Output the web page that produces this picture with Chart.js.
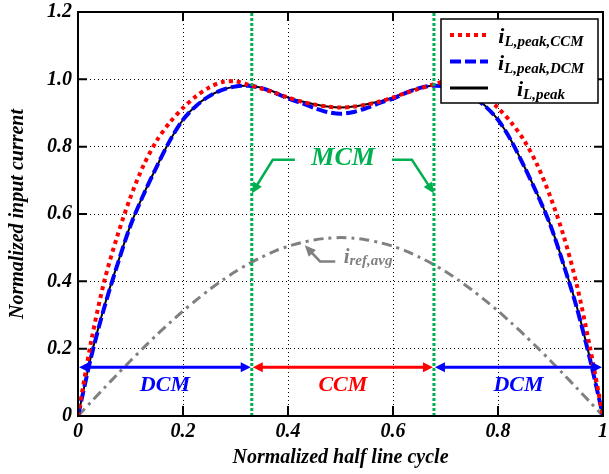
<!DOCTYPE html>
<html>
<head>
<meta charset="utf-8">
<script src="https://cdn.jsdelivr.net/npm/chart.js@4.4.0/dist/chart.umd.min.js"></script>
<style>
  html, body { margin: 0; padding: 0; background: #fff; }
</style>
</head>
<body>
<canvas id="chartPeak" width="609" height="474"></canvas>
<script>
// normalized half line cycle
const xs = [0, 0.025, 0.05, 0.075, 0.1, 0.125, 0.15, 0.175, 0.2, 0.225, 0.25, 0.275, 0.3, 0.325, 0.35, 0.375, 0.4, 0.425, 0.45, 0.475,
  0.5, 0.525, 0.55, 0.575, 0.6, 0.625, 0.65, 0.675, 0.7, 0.725, 0.75, 0.775, 0.8, 0.825, 0.85, 0.875, 0.9, 0.925, 0.95, 0.975, 1];

// i_L,peak,CCM
const peakCCM = [0, 0.221, 0.40, 0.535, 0.65, 0.745, 0.818, 0.872, 0.915, 0.95, 0.976, 0.992, 0.994, 0.984, 0.972, 0.96, 0.946, 0.934, 0.925, 0.919,
  0.916, 0.919, 0.925, 0.934, 0.946, 0.96, 0.972, 0.984, 0.994, 0.992, 0.976, 0.95, 0.915, 0.872, 0.818, 0.745, 0.65, 0.535, 0.39, 0.205, 0];

// i_L,peak,DCM
const peakDCM = [0, 0.175, 0.322, 0.449, 0.566, 0.658, 0.741, 0.818, 0.88, 0.921, 0.95, 0.969, 0.979, 0.981, 0.974, 0.96, 0.943, 0.93, 0.915, 0.903,
  0.898, 0.903, 0.915, 0.93, 0.943, 0.96, 0.974, 0.981, 0.979, 0.969, 0.95, 0.921, 0.88, 0.818, 0.741, 0.658, 0.566, 0.449, 0.322, 0.17, 0];

// i_L,peak
const peak = [0, 0.178, 0.325, 0.451, 0.567, 0.659, 0.741, 0.818, 0.88, 0.922, 0.95, 0.969, 0.979, 0.981, 0.975, 0.962, 0.946, 0.935, 0.926, 0.919,
  0.916, 0.919, 0.926, 0.935, 0.946, 0.962, 0.975, 0.981, 0.979, 0.969, 0.95, 0.922, 0.88, 0.818, 0.741, 0.659, 0.567, 0.451, 0.325, 0.172, 0];

// i_ref,avg
const refAvg = [0, 0.042, 0.083, 0.124, 0.164, 0.203, 0.241, 0.277, 0.312, 0.344, 0.375, 0.403, 0.429, 0.452, 0.472, 0.49, 0.504, 0.515, 0.523, 0.528,
  0.53, 0.528, 0.523, 0.515, 0.504, 0.49, 0.472, 0.452, 0.429, 0.403, 0.375, 0.344, 0.312, 0.277, 0.241, 0.203, 0.164, 0.124, 0.083, 0.042, 0];

const xTicks = [0, 0.2, 0.4, 0.6, 0.8, 1];
const xTickLabels = ['0', '0.2', '0.4', '0.6', '0.8', '1'];
const yTicks = [0, 0.2, 0.4, 0.6, 0.8, 1.0, 1.2];
const yTickLabels = ['0', '0.2', '0.4', '0.6', '0.8', '1.0', '1.2'];

// mode boundaries (MCM lines) and mode names
const modeBounds = [0, 0.331, 0.678, 1];
const modeNames = ['DCM', 'CCM', 'DCM'];

const SERIF = "'Liberation Serif', 'Times New Roman', serif";
const bi = sz => 'italic bold ' + sz + 'px ' + SERIF;
const GREEN = '#00b050';
const GRAY = '#808080';

const pts = arr => arr.map((v, i) => ({ x: xs[i], y: v }));

function arrowHead(ctx, x1, y1, x2, y2, len, half, color) {
  const a = Math.atan2(y2 - y1, x2 - x1);
  const bx = x2 - len * Math.cos(a), by = y2 - len * Math.sin(a);
  ctx.beginPath();
  ctx.moveTo(x2, y2);
  ctx.lineTo(bx + half * Math.sin(a), by - half * Math.cos(a));
  ctx.lineTo(bx - half * Math.sin(a), by + half * Math.cos(a));
  ctx.closePath();
  ctx.fillStyle = color;
  ctx.fill();
}

// polyline ending in an arrow (pixel points)
function arrowPath(ctx, p, color, width, len, half) {
  const n = p.length;
  const a = Math.atan2(p[n - 1][1] - p[n - 2][1], p[n - 1][0] - p[n - 2][0]);
  ctx.beginPath();
  ctx.moveTo(p[0][0], p[0][1]);
  for (let i = 1; i < n - 1; i++) ctx.lineTo(p[i][0], p[i][1]);
  ctx.lineTo(p[n - 1][0] - (len - 1) * Math.cos(a), p[n - 1][1] - (len - 1) * Math.sin(a));
  ctx.strokeStyle = color;
  ctx.lineWidth = width;
  ctx.setLineDash([]);
  ctx.stroke();
  arrowHead(ctx, p[n - 2][0], p[n - 2][1], p[n - 1][0], p[n - 1][1], len, half, color);
}

function subText(ctx, x, y, main, sub, color, mainSz, subSz, drop, center) {
  ctx.font = bi(mainSz);
  const w1 = ctx.measureText(main).width;
  ctx.font = bi(subSz);
  const w2 = ctx.measureText(sub).width;
  const x0 = center ? x - (w1 + w2) / 2 : x;
  ctx.fillStyle = color;
  ctx.textAlign = 'left';
  ctx.textBaseline = 'alphabetic';
  ctx.font = bi(mainSz);
  ctx.fillText(main, x0, y);
  ctx.font = bi(subSz);
  ctx.fillText(sub, x0 + w1, y + drop);
}

const decorations = {
  id: 'decorations',
  afterDatasetsDraw(chart) {
    const { ctx, chartArea: a, scales: { x, y } } = chart;
    const X = v => x.getPixelForValue(v), Y = v => y.getPixelForValue(v);
    ctx.save();

    // MCM boundaries
    ctx.strokeStyle = GREEN;
    ctx.lineWidth = 3;
    ctx.setLineDash([3, 2]);
    [modeBounds[1], modeBounds[2]].forEach(b => {
      ctx.beginPath();
      ctx.moveTo(X(b), a.bottom);
      ctx.lineTo(X(b), a.top);
      ctx.stroke();
    });
    ctx.setLineDash([]);

    // frame + inward ticks
    ctx.strokeStyle = '#000';
    ctx.lineWidth = 2;
    ctx.strokeRect(a.left, a.top, a.right - a.left, a.bottom - a.top);
    ctx.beginPath();
    xTicks.slice(1, -1).forEach(v => {
      ctx.moveTo(X(v), a.bottom); ctx.lineTo(X(v), a.bottom - 10);
      ctx.moveTo(X(v), a.top); ctx.lineTo(X(v), a.top + 9);
    });
    yTicks.slice(1, -1).forEach(v => {
      ctx.moveTo(a.left, Y(v)); ctx.lineTo(a.left + 9, Y(v));
      ctx.moveTo(a.right, Y(v)); ctx.lineTo(a.right - 9, Y(v));
    });
    ctx.stroke();

    // mode arrows along the bottom
    const colors = { DCM: '#0000ff', CCM: '#ff0000' };
    const yArr = Y(0.145);
    modeNames.forEach((m, i) => {
      const x1 = X(modeBounds[i]) + 1, x2 = X(modeBounds[i + 1]) - 1;
      const c = colors[m];
      ctx.beginPath();
      ctx.moveTo(x1 + 8, yArr);
      ctx.lineTo(x2 - 8, yArr);
      ctx.strokeStyle = c;
      ctx.lineWidth = 3;
      ctx.stroke();
      arrowHead(ctx, x2, yArr, x1, yArr, 10, 5, c);
      arrowHead(ctx, x1, yArr, x2, yArr, 10, 5, c);
      ctx.fillStyle = c;
      ctx.font = bi(22);
      ctx.textAlign = 'center';
      ctx.textBaseline = 'middle';
      ctx.fillText(m, (x1 + x2) / 2, Y(0.092));
    });

    // MCM label with arrows
    ctx.fillStyle = GREEN;
    ctx.font = bi(26);
    ctx.textAlign = 'center';
    ctx.textBaseline = 'middle';
    ctx.fillText('MCM', X(0.505), Y(0.766));
    arrowPath(ctx, [[X(0.413), Y(0.761)], [X(0.371), Y(0.761)], [X(modeBounds[1]), Y(0.661)]], GREEN, 2.5, 11, 5);
    arrowPath(ctx, [[X(0.598), Y(0.761)], [X(0.636), Y(0.761)], [X(modeBounds[2]), Y(0.661)]], GREEN, 2.5, 11, 5);

    // i_ref,avg label
    arrowPath(ctx, [[X(0.49), Y(0.459)], [X(0.461), Y(0.459)], [X(0.432), Y(0.507)]], GRAY, 2.5, 11, 5);
    subText(ctx, X(0.506), Y(0.453), 'i', 'ref,avg', GRAY, 21, 15, 2, false);

    // legend box
    const bx = a.right - 162, by = a.top + 7, bw = 157, bh = 84;
    ctx.fillStyle = '#fff';
    ctx.fillRect(bx, by, bw, bh);
    ctx.strokeStyle = '#000';
    ctx.lineWidth = 1.5;
    ctx.strokeRect(bx, by, bw, bh);
    const subs = ['L,peak,CCM', 'L,peak,DCM', 'L,peak'];
    const sampleWidths = [4, 4, 3];
    chart.data.datasets.slice(0, 3).forEach((ds, i) => {
      const ly = by + 16 + i * 26.5;
      ctx.beginPath();
      ctx.moveTo(bx + 9, ly);
      ctx.lineTo(bx + 47, ly);
      ctx.strokeStyle = ds.borderColor;
      ctx.lineWidth = sampleWidths[i];
      ctx.setLineDash(ds.borderDash || []);
      ctx.stroke();
      ctx.setLineDash([]);
      subText(ctx, bx + 100, ly + 8, 'i', subs[i], '#000', 22, 15, 3, true);
    });

    ctx.restore();
  }
};

const tickFont = { family: SERIF, size: 20, style: 'italic', weight: 'bold' };

new Chart(document.getElementById('chartPeak'), {
  type: 'line',
  data: {
    datasets: [
      { label: 'iL,peak,CCM', data: pts(peakCCM), borderColor: '#ff0000', borderWidth: 4, borderDash: [4, 4] },
      { label: 'iL,peak,DCM', data: pts(peakDCM), borderColor: '#0000ff', borderWidth: 4, borderDash: [11, 4] },
      { label: 'iL,peak', data: pts(peak), borderColor: '#000000', borderWidth: 2 },
      { label: 'iref,avg', data: pts(refAvg), borderColor: GRAY, borderWidth: 3, borderDash: [10, 5, 3, 5] }
    ]
  },
  options: {
    responsive: false,
    animation: false,
    layout: { padding: { left: 0, right: 6, top: 12, bottom: 0 } },
    elements: { point: { radius: 0 }, line: { tension: 0.3, fill: false } },
    plugins: { legend: { display: false }, tooltip: { enabled: false } },
    scales: {
      x: {
        type: 'linear', min: 0, max: 1,
        afterBuildTicks: s => { s.ticks = xTicks.map(v => ({ value: v })); },
        afterFit: s => { s.height = 58; s.paddingLeft = 0; s.paddingRight = 0; },
        ticks: { callback: (v, i) => xTickLabels[i], color: '#000', font: tickFont, padding: 4, maxRotation: 0 },
        grid: { color: '#000', lineWidth: 1, drawTicks: false },
        border: { display: false, dash: [1, 3] },
        title: { display: true, text: 'Normalized half line cycle', color: '#000', font: tickFont, padding: { top: 0, bottom: 4 } }
      },
      y: {
        type: 'linear', min: 0, max: 1.2,
        afterBuildTicks: s => { s.ticks = yTicks.map(v => ({ value: v })); },
        afterFit: s => { s.width = 78; s.paddingTop = 0; s.paddingBottom = 0; },
        ticks: { callback: (v, i) => yTickLabels[i], color: '#000', font: tickFont, padding: 6 },
        grid: { color: '#000', lineWidth: 1, drawTicks: false },
        border: { display: false, dash: [1, 3] },
        title: { display: true, text: 'Normalized input current', color: '#000', font: tickFont, padding: { top: 6, bottom: 0 } }
      }
    }
  },
  plugins: [decorations]
});
</script>
</body>
</html>
